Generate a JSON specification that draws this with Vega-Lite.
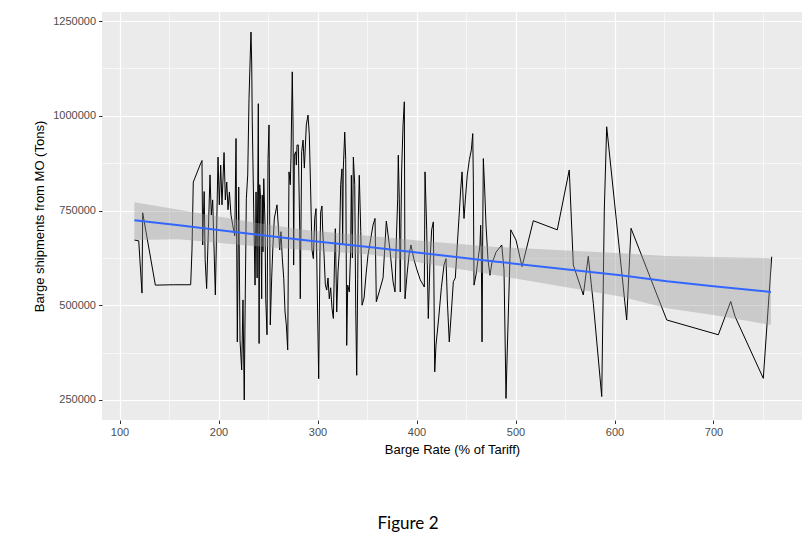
{
  "$schema": "https://vega.github.io/schema/vega-lite/v6.json",
  "autosize": "none",
  "width": 700,
  "height": 408,
  "padding": {"left": 102, "top": 12, "right": 10, "bottom": 116},
  "background": "white",
  "config": {
    "view": {"fill": "#EBEBEB", "stroke": null},
    "font": "Liberation Sans",
    "axis": {
      "domain": false,
      "gridColor": "white",
      "tickColor": "#333333",
      "tickSize": 3.5,
      "labelColor": "#4D4D4D",
      "labelFont": "Liberation Sans",
      "labelFontSize": 11,
      "labelPadding": 3,
      "titleFont": "Liberation Sans",
      "titleFontSize": 13,
      "titleFontWeight": "normal",
      "titleColor": "black"
    }
  },
  "title": {
    "text": "Figure 2",
    "orient": "bottom",
    "anchor": "middle",
    "dx": -44,
    "offset": 59,
    "font": "Lato",
    "fontSize": 17,
    "fontWeight": "normal",
    "color": "black"
  },
  "datasets": {
    "pts": [
      {"x":115,"y":672000},{"x":119.4,"y":670000},{"x":122.7,"y":532000},{"x":123.4,"y":744000},{"x":136.2,"y":553000},{"x":154.3,"y":554000},{"x":171.9,"y":554000},{"x":173.2,"y":646000},{"x":174.5,"y":825000},{"x":181.3,"y":870000},{"x":183.3,"y":882000},{"x":184,"y":659000},{"x":185.5,"y":800000},{"x":186.5,"y":620000},{"x":188,"y":544000},{"x":191.4,"y":844000},{"x":192.7,"y":738000},{"x":194.1,"y":778000},{"x":196.8,"y":527000},{"x":199.5,"y":891000},{"x":200.8,"y":765000},{"x":202.2,"y":870000},{"x":203.5,"y":765000},{"x":205.6,"y":903000},{"x":206.9,"y":778000},{"x":208.3,"y":825000},{"x":209.6,"y":752000},{"x":211,"y":799000},{"x":212.6,"y":738000},{"x":214.3,"y":712000},{"x":216.4,"y":683000},{"x":217.7,"y":940000},{"x":219,"y":403000},{"x":220.4,"y":812000},{"x":221.7,"y":408000},{"x":223.4,"y":329000},{"x":224.7,"y":514000},{"x":226,"y":250000},{"x":226.8,"y":474000},{"x":228.1,"y":781000},{"x":229.5,"y":844000},{"x":230.8,"y":1045000},{"x":232.1,"y":1161000},{"x":232.8,"y":1221000},{"x":233.5,"y":1142000},{"x":234.1,"y":984000},{"x":235.6,"y":746000},{"x":236.9,"y":553000},{"x":237.9,"y":799000},{"x":239,"y":572000},{"x":240.2,"y":1032000},{"x":241,"y":399000},{"x":241.6,"y":818000},{"x":242.6,"y":778000},{"x":243.6,"y":517000},{"x":244.2,"y":791000},{"x":244.9,"y":641000},{"x":245.7,"y":834000},{"x":247,"y":712000},{"x":247.7,"y":517000},{"x":249,"y":422000},{"x":250,"y":884000},{"x":251,"y":976000},{"x":251.7,"y":730000},{"x":252.3,"y":448000},{"x":253.7,"y":572000},{"x":255,"y":659000},{"x":256.4,"y":730000},{"x":259.1,"y":765000},{"x":261.8,"y":646000},{"x":263.1,"y":694000},{"x":264.4,"y":625000},{"x":265.9,"y":570000},{"x":267.2,"y":482000},{"x":268.5,"y":448000},{"x":269.9,"y":382000},{"x":271.2,"y":852000},{"x":272.5,"y":818000},{"x":273.2,"y":889000},{"x":274.5,"y":1116000},{"x":275.3,"y":976000},{"x":275.9,"y":606000},{"x":276.6,"y":896000},{"x":278,"y":905000},{"x":278.6,"y":870000},{"x":279.3,"y":923000},{"x":280.6,"y":923000},{"x":282,"y":704000},{"x":282.6,"y":517000},{"x":284,"y":905000},{"x":285.4,"y":936000},{"x":286.7,"y":862000},{"x":288.7,"y":976000},{"x":290.4,"y":1002000},{"x":291.7,"y":950000},{"x":293.1,"y":799000},{"x":294.4,"y":646000},{"x":295.8,"y":623000},{"x":297.2,"y":730000},{"x":298.5,"y":755000},{"x":299.8,"y":527000},{"x":301.2,"y":306000},{"x":302.5,"y":641000},{"x":303.2,"y":746000},{"x":304.5,"y":762000},{"x":305.2,"y":699000},{"x":306.6,"y":633000},{"x":307.9,"y":554000},{"x":309.3,"y":540000},{"x":310.6,"y":572000},{"x":311.9,"y":517000},{"x":313.3,"y":546000},{"x":314.6,"y":493000},{"x":316,"y":465000},{"x":317,"y":593000},{"x":318,"y":702000},{"x":319.4,"y":482000},{"x":320.7,"y":588000},{"x":322.1,"y":646000},{"x":323.4,"y":818000},{"x":324.7,"y":860000},{"x":325.4,"y":659000},{"x":326,"y":857000},{"x":327.5,"y":957000},{"x":328.5,"y":884000},{"x":329.5,"y":394000},{"x":330.5,"y":553000},{"x":332.1,"y":535000},{"x":333.5,"y":646000},{"x":334.2,"y":843000},{"x":335.2,"y":625000},{"x":336.2,"y":891000},{"x":337.6,"y":818000},{"x":338.6,"y":488000},{"x":339.6,"y":315000},{"x":340.6,"y":567000},{"x":341.2,"y":730000},{"x":342.2,"y":843000},{"x":343.7,"y":694000},{"x":345,"y":500000},{"x":347,"y":519000},{"x":349,"y":580000},{"x":351,"y":633000},{"x":353.8,"y":676000},{"x":356.1,"y":712000},{"x":358.1,"y":729000},{"x":359.4,"y":509000},{"x":362.8,"y":540000},{"x":366.2,"y":572000},{"x":369.5,"y":722000},{"x":373.2,"y":646000},{"x":376.3,"y":562000},{"x":378.3,"y":535000},{"x":379.6,"y":672000},{"x":381,"y":781000},{"x":381.6,"y":896000},{"x":382.6,"y":778000},{"x":383.6,"y":535000},{"x":384.3,"y":720000},{"x":385,"y":857000},{"x":386.4,"y":976000},{"x":387.7,"y":1037000},{"x":388.4,"y":517000},{"x":390.4,"y":580000},{"x":392.4,"y":633000},{"x":394.4,"y":659000},{"x":397.5,"y":620000},{"x":400.5,"y":593000},{"x":403.8,"y":567000},{"x":407.9,"y":548000},{"x":408.6,"y":852000},{"x":410.3,"y":699000},{"x":411.9,"y":465000},{"x":413.6,"y":614000},{"x":415.3,"y":699000},{"x":417,"y":720000},{"x":418.4,"y":324000},{"x":419.7,"y":395000},{"x":422.4,"y":466000},{"x":425.1,"y":546000},{"x":427.8,"y":606000},{"x":429.8,"y":623000},{"x":431.1,"y":514000},{"x":433.1,"y":403000},{"x":435.2,"y":482000},{"x":437.2,"y":562000},{"x":439.2,"y":572000},{"x":441.2,"y":659000},{"x":442.9,"y":730000},{"x":444.6,"y":804000},{"x":446,"y":852000},{"x":447.3,"y":765000},{"x":448,"y":729000},{"x":449.3,"y":778000},{"x":451.3,"y":844000},{"x":453.4,"y":884000},{"x":455.4,"y":910000},{"x":456.8,"y":953000},{"x":457.4,"y":831000},{"x":458.1,"y":553000},{"x":460.1,"y":580000},{"x":462.1,"y":620000},{"x":464.1,"y":659000},{"x":464.8,"y":711000},{"x":465.5,"y":625000},{"x":466.2,"y":403000},{"x":466.9,"y":699000},{"x":467.5,"y":887000},{"x":468.9,"y":804000},{"x":470.2,"y":712000},{"x":472.2,"y":620000},{"x":474.2,"y":579000},{"x":476.3,"y":614000},{"x":478.3,"y":625000},{"x":480.3,"y":640000},{"x":486.1,"y":659000},{"x":488.4,"y":593000},{"x":490.4,"y":254000},{"x":491.7,"y":382000},{"x":495.2,"y":699000},{"x":500.5,"y":672000},{"x":506.6,"y":602000},{"x":518,"y":723000},{"x":542.2,"y":699000},{"x":554.3,"y":857000},{"x":558.4,"y":606000},{"x":568.5,"y":527000},{"x":573.5,"y":629000},{"x":578.6,"y":505000},{"x":587.1,"y":259000},{"x":589.7,"y":751000},{"x":592.1,"y":971000},{"x":612.3,"y":461000},{"x":616.7,"y":703000},{"x":652.8,"y":461000},{"x":704.9,"y":422000},{"x":717.4,"y":510000},{"x":721.8,"y":470000},{"x":750.3,"y":307000},{"x":758.8,"y":628000}
    ],
    "band": [
      {"x":115,"lo":672000,"hi":772000,"fit":724000},
      {"x":160,"lo":674000,"hi":752000,"fit":711000},
      {"x":227,"lo":658000,"hi":722000,"fit":690000},
      {"x":290,"lo":645000,"hi":698000,"fit":671000},
      {"x":354,"lo":634000,"hi":683000,"fit":653000},
      {"x":418,"lo":606000,"hi":667000,"fit":634000},
      {"x":481,"lo":579000,"hi":654000,"fit":615000},
      {"x":606,"lo":523000,"hi":637000,"fit":579000},
      {"x":653,"lo":492000,"hi":630000,"fit":563000},
      {"x":700,"lo":474000,"hi":627000,"fit":550000},
      {"x":758,"lo":448000,"hi":624000,"fit":535000}
    ]
  },
  "layer": [
    {
      "data": {"name": "pts"},
      "mark": {"type": "line", "color": "black", "strokeWidth": 1},
      "encoding": {
        "x": {
          "field": "x", "type": "quantitative",
          "scale": {"domain": [82.3, 789.4], "nice": false, "zero": false},
          "axis": {
            "title": "Barge Rate (% of Tariff)",
            "titlePadding": 6,
            "values": [100,150,200,250,300,350,400,450,500,550,600,650,700,750],
            "format": "d",
            "labelExpr": "datum.value % 100 == 0 ? datum.label : ''",
            "tickOpacity": {"condition": {"test": "datum.value % 100 == 0", "value": 1}, "value": 0},
            "gridWidth": {"condition": {"test": "datum.value % 100 == 0", "value": 1.2}, "value": 0.6}
          }
        },
        "y": {
          "field": "y", "type": "quantitative",
          "scale": {"domain": [197000, 1274000], "nice": false, "zero": false},
          "axis": {
            "title": "Barge shipments from MO (Tons)",
            "titlePadding": 6,
            "values": [250000,375000,500000,625000,750000,875000,1000000,1125000,1250000],
            "format": "d",
            "labelExpr": "datum.value % 250000 == 0 ? datum.label : ''",
            "tickOpacity": {"condition": {"test": "datum.value % 250000 == 0", "value": 1}, "value": 0},
            "gridWidth": {"condition": {"test": "datum.value % 250000 == 0", "value": 1.2}, "value": 0.6}
          }
        }
      }
    },
    {
      "data": {"name": "band"},
      "mark": {"type": "area", "color": "#999999", "opacity": 0.4},
      "encoding": {
        "x": {"field": "x", "type": "quantitative"},
        "y": {"field": "lo", "type": "quantitative"},
        "y2": {"field": "hi"}
      }
    },
    {
      "data": {"name": "band"},
      "mark": {"type": "line", "color": "#3366FF", "strokeWidth": 2},
      "encoding": {
        "x": {"field": "x", "type": "quantitative"},
        "y": {"field": "fit", "type": "quantitative"}
      }
    }
  ]
}
